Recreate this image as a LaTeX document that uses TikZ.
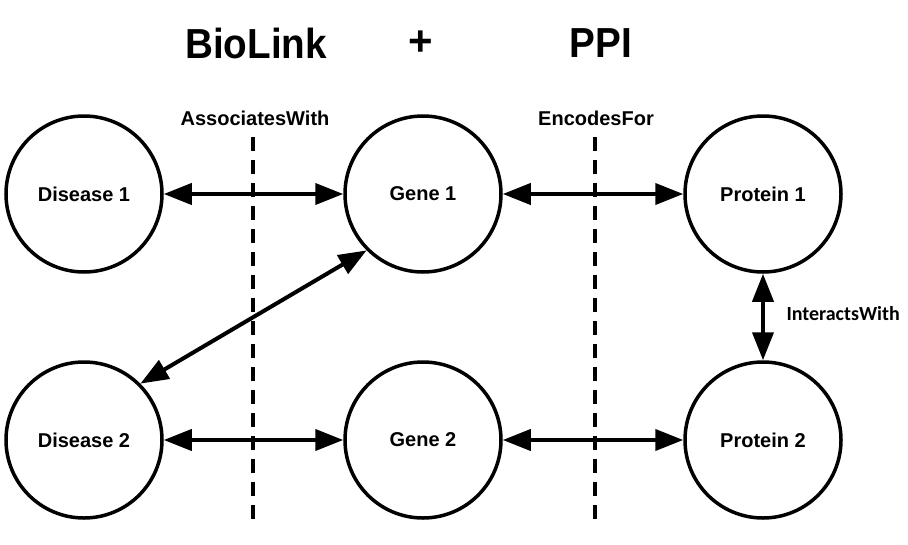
\documentclass[tikz,border=0pt]{standalone}
\usepackage{fontspec}
\setmainfont{Liberation Sans}
\newfontfamily\calibrifont{Carlito}
\usepackage{tikz}
\usetikzlibrary{arrows.meta}
\tikzstyle{entity}=[circle,draw=black,line width=3.5pt,minimum size=156pt,inner sep=0pt,font=\fontsize{20}{24}\selectfont\bfseries]
\tikzstyle{link}=[line width=4pt,{Triangle[length=28pt,width=21pt]}-{Triangle[length=28pt,width=21pt]}]
\tikzstyle{divider}=[line width=3.5pt,dash pattern=on 14pt off 9pt]
\tikzstyle{relation}=[font=\fontsize{20}{24}\selectfont\bfseries]
\tikzstyle{heading}=[font=\fontsize{42}{48}\selectfont\bfseries]

\begin{document}
\begin{tikzpicture}[x=1pt,y=-1pt]
		\useasboundingbox (0,0) rectangle (908,544);
		\node[entity](d1) at (84,194){Disease 1};
		\node[entity](g1) at (423,194){Gene 1};
		\node[entity](p1) at (763,194){Protein 1};

		\node[entity](d2) at (84,440){Disease 2};
		\node[entity](g2) at (423,440){Gene 2};
		\node[entity](p2) at (763,440){Protein 2};
% dividers
		\coordinate(a0) at (253,137);
		\coordinate(a1) at (253,528);
		\coordinate(e0) at (595,137);
		\coordinate(e1) at (595,528);
		\draw[divider] (a0) -- (a1);
		\draw[divider] (e0) -- (e1);
% BioLink side
		\draw[link] (d1) -- (g1);
		\draw[link] (d2) -- (g2);
		\draw[link] (g1.south west) -- (d2.north east);
% PPI side
		\draw[link] (g1) -- (p1);
		\draw[link] (g2) -- (p2);
		\draw[link] (p1) -- (p2);

		\node[relation](aw) at (255,118){AssociatesWith};
		\node[relation](ef) at (596,118){EncodesFor};
		\node[relation,font=\fontsize{20}{24}\calibrifont\bfseries,anchor=west](iw) at (783,314){InteractsWith};

		\node[heading](bl) at (256,43){\scalebox{0.92}[1]{BioLink}};
		\node[heading](plus) at (421,43){+};
		\node[heading](ppi) at (601,43){\scalebox{0.92}[1]{PPI}};
	\end{tikzpicture}
\end{document}
